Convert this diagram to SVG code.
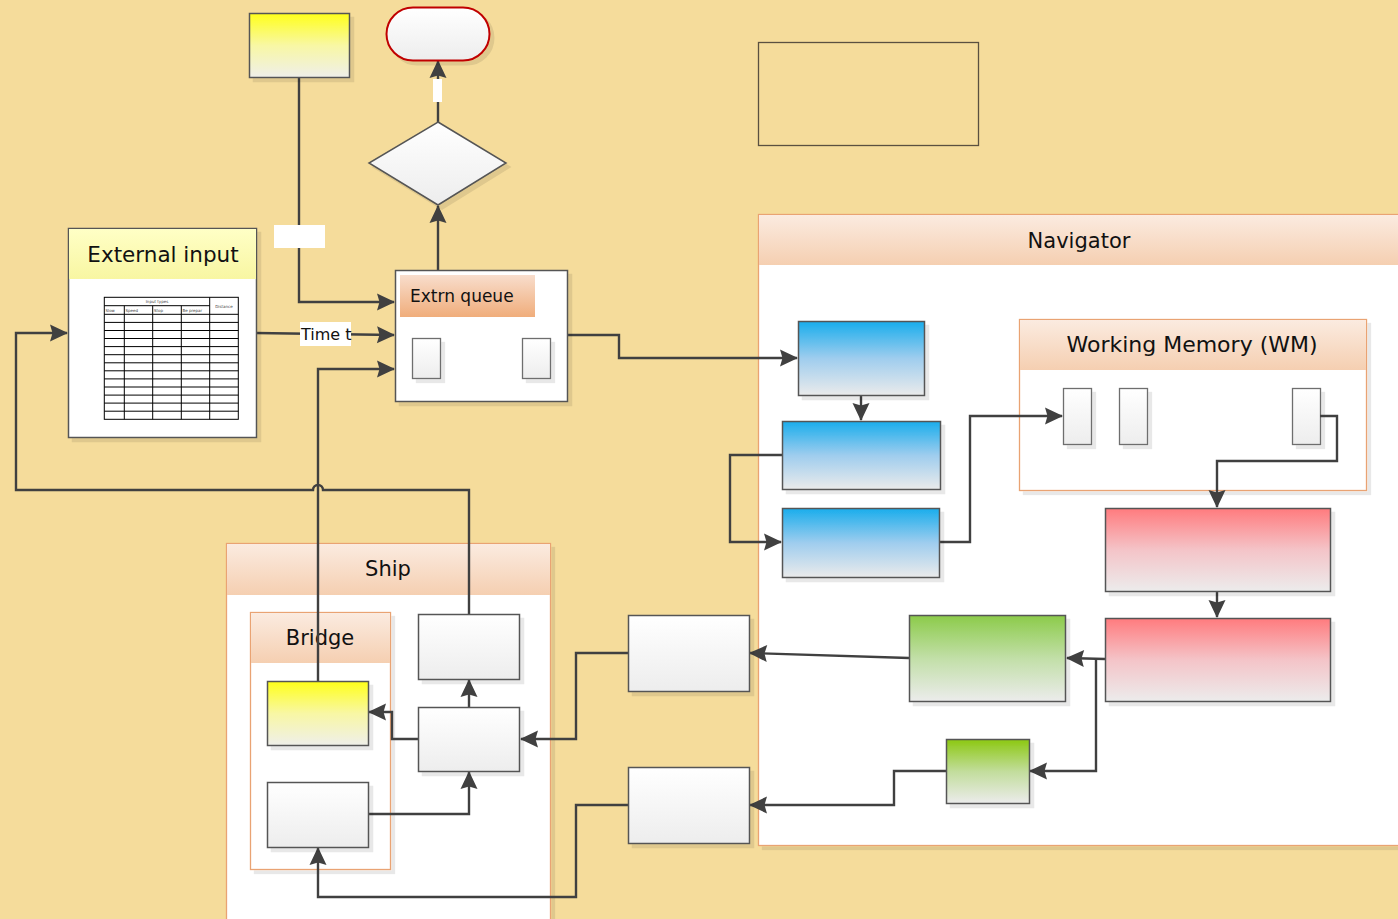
<svg xmlns="http://www.w3.org/2000/svg" width="1398" height="919" viewBox="0 0 1398 919">
  <style>
    .bx { stroke: #555; stroke-width: 1.5; }
    .sq { fill: url(#gWhite); stroke: #6e6e6e; stroke-width: 1.3; }
    .cont { fill: #fff; stroke: #E9A373; stroke-width: 1.3; }
    .hd { fill: url(#gHead); }
    .lbl { font-family: "DejaVu Sans", "Liberation Sans", sans-serif; fill: #111; }
    .con { fill: none; stroke: #404040; stroke-width: 2.4; }
    .arr { marker-end: url(#ah); }
    .tb { stroke: #000; stroke-width: 1; fill: none; }
    .tt { font-family: "DejaVu Sans", sans-serif; font-size: 4px; fill: #444; }
  </style>
  <defs>
    <filter id="sh" x="-10%" y="-10%" width="130%" height="130%">
      <feDropShadow dx="4" dy="4" stdDeviation="0.4" flood-color="#000" flood-opacity="0.09"/>
    </filter>
    <marker id="ah" viewBox="0 0 18 17" refX="17" refY="8.5" markerWidth="18" markerHeight="17" markerUnits="userSpaceOnUse" orient="auto" overflow="visible">
      <path d="M0,0 L18,8.5 L0,17 L2.5,8.5 z" fill="#404040"/>
    </marker>
    <linearGradient id="gWhite" x1="0" y1="0" x2="0" y2="1">
      <stop offset="0" stop-color="#ffffff"/>
      <stop offset="1" stop-color="#ededed"/>
    </linearGradient>
    <linearGradient id="gYellow" x1="0" y1="0" x2="0" y2="1">
      <stop offset="0" stop-color="#ffff1a"/>
      <stop offset="0.5" stop-color="#f8f7a4"/>
      <stop offset="1" stop-color="#efefea"/>
    </linearGradient>
    <linearGradient id="gBlue" x1="0" y1="0" x2="0" y2="1">
      <stop offset="0" stop-color="#19adec"/>
      <stop offset="0.5" stop-color="#9fcdee"/>
      <stop offset="1" stop-color="#ebebeb"/>
    </linearGradient>
    <linearGradient id="gRed" x1="0" y1="0" x2="0" y2="1">
      <stop offset="0" stop-color="#ff7b7e"/>
      <stop offset="0.5" stop-color="#f4c4c8"/>
      <stop offset="1" stop-color="#ececec"/>
    </linearGradient>
    <linearGradient id="gGreen" x1="0" y1="0" x2="0" y2="1">
      <stop offset="0" stop-color="#8ccb4a"/>
      <stop offset="0.5" stop-color="#c2dfa8"/>
      <stop offset="1" stop-color="#ececec"/>
    </linearGradient>
    <linearGradient id="gGreen2" x1="0" y1="0" x2="0" y2="1">
      <stop offset="0" stop-color="#8cc812"/>
      <stop offset="0.5" stop-color="#c2dd9c"/>
      <stop offset="1" stop-color="#ececec"/>
    </linearGradient>
    <linearGradient id="gHead" x1="0" y1="0" x2="0" y2="1">
      <stop offset="0" stop-color="#fbebe0"/>
      <stop offset="1" stop-color="#f5cfb1"/>
    </linearGradient>
    <linearGradient id="gQueue" x1="0" y1="0" x2="0" y2="1">
      <stop offset="0" stop-color="#f8ddcc"/>
      <stop offset="1" stop-color="#f0ad7b"/>
    </linearGradient>
    <linearGradient id="gInput" x1="0" y1="0" x2="0" y2="1">
      <stop offset="0" stop-color="#ffffc6"/>
      <stop offset="1" stop-color="#f8f6a2"/>
    </linearGradient>
  </defs>

  <!-- page background -->
  <rect x="0" y="0" width="1398" height="919" fill="#F5DC9B"/>

  <!-- empty frame, top right -->
  <g id="frame">
    <rect x="758.5" y="42.5" width="220" height="103" fill="none" stroke="#5a5040" stroke-width="1.3"/>
  </g>

  <!-- containers -->
  <g id="navigator">
    <rect class="cont" x="758.5" y="214.5" width="645" height="631" filter="url(#sh)"/>
    <rect class="hd" x="759" y="215" width="644" height="50"/>
    <text class="lbl" x="1079" y="248" font-size="21" text-anchor="middle">Navigator</text>
  </g>

  <g id="working-memory">
    <rect class="cont" x="1019.5" y="319.5" width="347" height="171" filter="url(#sh)"/>
    <rect class="hd" x="1020" y="320" width="346" height="50"/>
    <text class="lbl" x="1192" y="352" font-size="22" text-anchor="middle">Working Memory (WM)</text>
    <rect class="sq" x="1063.5" y="388.5" width="28" height="56" filter="url(#sh)"/>
    <rect class="sq" x="1119.5" y="388.5" width="28" height="56" filter="url(#sh)"/>
    <rect class="sq" x="1292.5" y="388.5" width="28" height="56" filter="url(#sh)"/>
  </g>

  <g id="ship">
    <rect class="cont" x="226.5" y="543.5" width="324" height="390" filter="url(#sh)"/>
    <rect class="hd" x="227" y="544" width="323" height="51"/>
    <text class="lbl" x="388" y="576" font-size="21" text-anchor="middle">Ship</text>
  </g>

  <g id="bridge">
    <rect class="cont" x="250.5" y="612.5" width="140" height="257" stroke="#E07F3A" filter="url(#sh)"/>
    <rect class="hd" x="251" y="613" width="139" height="50"/>
    <text class="lbl" x="320" y="645" font-size="21" text-anchor="middle">Bridge</text>
  </g>

  <!-- connectors -->
  <g id="connectors">
    <path class="con arr" d="M438,122 L438,61"/>
    <path class="con arr" d="M438,270 L438,206"/>
    <path class="con arr" d="M299,77 L299,302 L394,302"/>
    <path class="con arr" d="M256,333 L394,335"/>
    <path class="con arr" d="M318,681 L318,369 L394,369"/>
    <path class="con arr" d="M469,614 L469,490 L323,490 A5,5 0 0 0 313,490 L16,490 L16,333 L67,333"/>
    <path class="con arr" d="M567,335 L619,335 L619,358 L797,358"/>
    <path class="con arr" d="M861,395 L861,420"/>
    <path class="con arr" d="M782,455 L730,455 L730,542 L781,542"/>
    <path class="con arr" d="M939,542 L970,542 L970,416 L1062,416"/>
    <path class="con arr" d="M1320,416 L1337,416 L1337,461 L1217,461 L1217,507"/>
    <path class="con arr" d="M1217,591 L1217,617"/>
    <path class="con arr" d="M1105,659 L1067,658"/>
    <path class="con arr" d="M1096,659 L1096,771 L1030,771"/>
    <path class="con arr" d="M909,658 L750,653"/>
    <path class="con arr" d="M946,771 L894,771 L894,805 L750,805"/>
    <path class="con arr" d="M628,653 L576,653 L576,739 L521,739"/>
    <path class="con arr" d="M628,805 L576,805 L576,897 L318,897 L318,848"/>
    <path class="con arr" d="M469,707 L469,680"/>
    <path class="con arr" d="M418,739 L392,739 L392,712 L369,712"/>
    <path class="con arr" d="M368,814 L469,814 L469,772"/>
  </g>

  <!-- blank connector labels -->
  <g id="connector-labels">
    <rect x="433" y="79" width="9" height="23" fill="#fff"/>
    <rect x="274" y="225" width="51" height="23" fill="#fff"/>
    <rect x="300" y="322" width="51" height="24" fill="#fff"/>
    <text class="lbl" x="301" y="340" font-size="16">Time t</text>
  </g>

  <!-- flow nodes -->
  <g id="source-top">
    <rect class="bx" x="249.5" y="13.5" width="100" height="64" fill="url(#gYellow)" filter="url(#sh)"/>
  </g>

  <g id="terminator">
    <rect x="386.5" y="7.5" width="103" height="53" rx="26.5" fill="url(#gWhite)" stroke="#C00000" stroke-width="2" filter="url(#sh)"/>
  </g>

  <g id="decision">
    <polygon class="bx" points="438,122 506,163 438,205 369,163" fill="url(#gWhite)" stroke-width="1.2" filter="url(#sh)"/>
  </g>

  <g id="extrn-queue">
    <rect class="bx" x="395.5" y="270.5" width="172" height="131" fill="#fff" filter="url(#sh)"/>
    <rect x="400" y="275" width="135" height="42" fill="url(#gQueue)"/>
    <text class="lbl" x="410" y="302" font-size="17">Extrn queue</text>
    <rect class="sq" x="412.5" y="338.5" width="28" height="40" filter="url(#sh)"/>
    <rect class="sq" x="522.5" y="338.5" width="28" height="40" filter="url(#sh)"/>
  </g>

  <g id="external-input">
    <rect class="bx" x="68.5" y="228.5" width="188" height="209" fill="#fff" filter="url(#sh)"/>
    <rect x="69" y="229" width="187" height="50" fill="url(#gInput)"/>
    <text class="lbl" x="163" y="262" font-size="21.5" text-anchor="middle">External input</text>
    <!-- input table -->
    <g id="input-table">
      <rect class="tb" x="104.3" y="297.3" width="134" height="122"/>
      <line class="tb" x1="209.7" y1="297.3" x2="209.7" y2="419.3"/>
      <line class="tb" x1="104.3" y1="305.7" x2="209.7" y2="305.7"/>
      <line class="tb" x1="124.3" y1="305.7" x2="124.3" y2="419.3"/>
      <line class="tb" x1="152.7" y1="305.7" x2="152.7" y2="419.3"/>
      <line class="tb" x1="181.3" y1="305.7" x2="181.3" y2="419.3"/>
      <path class="tb" d="M104.3,314.3 H238.3 M104.3,322.4 H238.3 M104.3,330.5 H238.3 M104.3,338.5 H238.3 M104.3,346.6 H238.3 M104.3,354.7 H238.3 M104.3,362.8 H238.3 M104.3,370.8 H238.3 M104.3,378.9 H238.3 M104.3,387 H238.3 M104.3,395.1 H238.3 M104.3,403.1 H238.3 M104.3,411.2 H238.3"/>
      <text class="tt" x="157" y="303.3" text-anchor="middle">Input types</text>
      <text class="tt" x="224" y="307.6" text-anchor="middle">Distance</text>
      <text class="tt" x="105.5" y="311.8">Slow</text>
      <text class="tt" x="125.5" y="311.8">Speed</text>
      <text class="tt" x="153.9" y="311.8">Stop</text>
      <text class="tt" x="182.5" y="311.8">Be prepar</text>
    </g>
  </g>

  <g id="nav-blue-1">
    <rect class="bx" x="798.5" y="321.5" width="126" height="74" fill="url(#gBlue)" filter="url(#sh)"/>
  </g>
  <g id="nav-blue-2">
    <rect class="bx" x="782.5" y="421.5" width="158" height="68" fill="url(#gBlue)" filter="url(#sh)"/>
  </g>
  <g id="nav-blue-3">
    <rect class="bx" x="782.5" y="508.5" width="157" height="69" fill="url(#gBlue)" filter="url(#sh)"/>
  </g>
  <g id="nav-red-1">
    <rect class="bx" x="1105.5" y="508.5" width="225" height="83" fill="url(#gRed)" filter="url(#sh)"/>
  </g>
  <g id="nav-red-2">
    <rect class="bx" x="1105.5" y="618.5" width="225" height="83" fill="url(#gRed)" filter="url(#sh)"/>
  </g>
  <g id="nav-green-1">
    <rect class="bx" x="909.5" y="615.5" width="156" height="86" fill="url(#gGreen)" filter="url(#sh)"/>
  </g>
  <g id="nav-green-2">
    <rect class="bx" x="946.5" y="739.5" width="83" height="64" fill="url(#gGreen2)" filter="url(#sh)"/>
  </g>

  <g id="relay-a">
    <rect class="bx" x="628.5" y="615.5" width="121" height="76" fill="url(#gWhite)" stroke="#7a7a7a" filter="url(#sh)"/>
  </g>
  <g id="relay-b">
    <rect class="bx" x="628.5" y="767.5" width="121" height="76" fill="url(#gWhite)" stroke="#7a7a7a" filter="url(#sh)"/>
  </g>

  <g id="ship-top">
    <rect class="bx" x="418.5" y="614.5" width="101" height="65" fill="url(#gWhite)" filter="url(#sh)"/>
  </g>
  <g id="ship-mid">
    <rect class="bx" x="418.5" y="707.5" width="101" height="64" fill="url(#gWhite)" filter="url(#sh)"/>
  </g>
  <g id="bridge-yellow">
    <rect class="bx" x="267.5" y="681.5" width="101" height="64" fill="url(#gYellow)" filter="url(#sh)"/>
  </g>
  <g id="bridge-white">
    <rect class="bx" x="267.5" y="782.5" width="101" height="65" fill="url(#gWhite)" filter="url(#sh)"/>
  </g>
</svg>
